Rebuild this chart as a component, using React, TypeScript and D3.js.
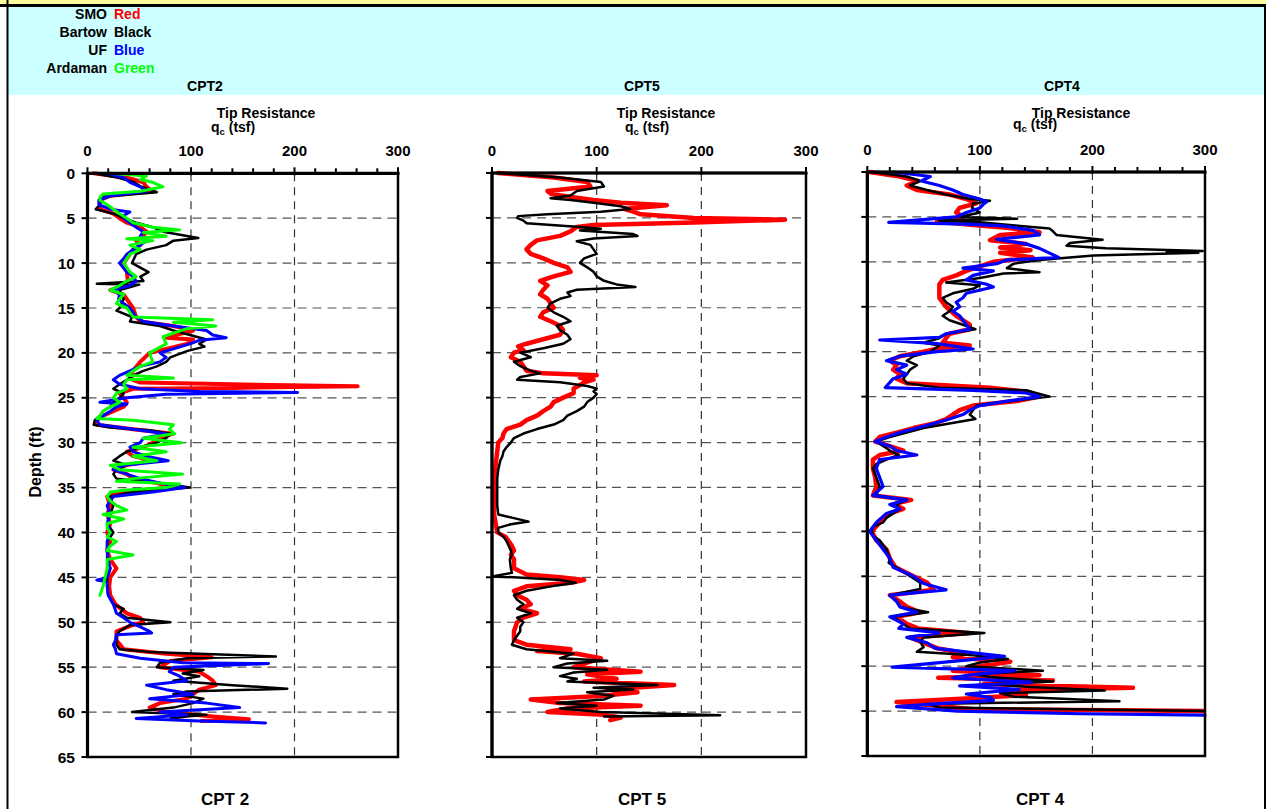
import React from "react";
import * as d3 from "d3";

// ---------- DATA: [depth (ft), qc (tsf)] ----------
const seriesNames = ["SMO", "Bartow", "UF", "Ardaman"];
const seriesColorNames = ["Red", "Black", "Blue", "Green"];
const xTicks = [0, 100, 200, 300];
const yTicks = [0, 5, 10, 15, 20, 25, 30, 35, 40, 45, 50, 55, 60, 65];
const panelTitles = ["CPT2", "CPT5", "CPT4"];
const panelBottomTitles = ["CPT 2", "CPT 5", "CPT 4"];

const cpt2Smo: [number, number][] = [[0,6],[0.5,38],[1,54],[1.5,57],[2,63],[2.5,22],[3,12],[4,12],[4.5,25],[5,31],[5.5,38],[6,51],[6.5,57],[7,54],[7.5,47],[8,51],[8.5,44],[9,41],[10,35],[11,38],[12,39],[12.5,35],[13,22],[13.5,35],[14,38],[15,44],[16,47],[16.5,51],[17,83],[17.5,102],[18,86],[18.3,76],[18.5,102],[19,96],[20,60],[21,51],[22,44],[22.5,41],[23,44],[23.3,51],[23.5,140],[23.7,261],[23.9,140],[24,44],[24.5,31],[25,35],[25.5,38],[26,35],[26.5,25],[27,15],[27.5,9],[28,9],[28.5,44],[29,83],[29.5,70],[30,63],[30.5,54],[31,38],[31.5,44],[32,63],[32.5,38],[33,25],[33.5,38],[34,44],[34.5,67],[35,83],[35.5,31],[36,19],[37,22],[38,19],[39,22],[40,19],[41,22],[42,19],[43,22],[44,28],[45,22],[46,21],[47,22],[48,27],[49,38],[49.5,51],[50,54],[50.3,44],[51,28],[52,28],[53,35],[53.5,76],[53.9,120],[54.3,80],[55,70],[55.5,108],[56,115],[56.5,121],[57,124],[57.5,108],[58,102],[58.5,96],[59,70],[59.5,60],[60,76],[60.5,121],[60.8,156],[61,110]];
const cpt2Bartow: [number, number][] = [[0,6],[0.5,30],[1,45],[1.5,52],[2.1,67],[2.6,15],[3,12],[3.5,12],[4,8],[4.5,25],[5,35],[5.5,47],[6,63],[6.5,73],[7.2,107],[7.5,83],[8,76],[8.5,57],[9,47],[10,43],[10.5,51],[11,59],[11.5,51],[12,54],[12.3,9],[12.4,50],[13,31],[14,35],[15,31],[15.3,28],[16,43],[16.5,41],[17,70],[17.5,83],[18,99],[18.5,115],[19,108],[19.3,113],[19.8,96],[20.5,80],[21,76],[21.5,67],[22,54],[22.5,44],[23,38],[23.5,31],[24,25],[24.5,35],[25,31],[25.5,25],[26,22],[26.5,15],[27,12],[27.5,7],[28,6],[28.3,22],[28.6,60],[29,80],[29.5,76],[30,67],[30.5,51],[31,38],[31.5,31],[32,25],[32.5,38],[33,28],[33.5,25],[34,28],[34.5,70],[35,99],[35.5,44],[36,22],[37,25],[38,22],[39,19],[40,25],[41,19],[42,19],[43,19],[44,22],[45,19],[46,19],[47,20],[48,25],[48.5,35],[49,31],[49.5,38],[50,80],[50.3,41],[51,31],[51.5,28],[52,28],[52.5,28],[53,31],[53.3,60],[53.8,182],[54,96],[54.5,70],[55,67],[55.3,112],[55.7,92],[56,108],[56.5,83],[57,140],[57.4,193],[57.7,96],[58,83],[58.5,112],[59,102],[59.5,83],[60,43],[60.3,115],[60.5,96],[60.7,80]];
const cpt2Uf: [number, number][] = [[0,19],[0.5,35],[1,41],[1.5,51],[2,57],[2.5,22],[3,11],[3.5,11],[4,22],[4.3,41],[4.7,35],[5,35],[5.5,41],[6,47],[6.5,54],[7,51],[7.5,57],[8,51],[8.5,44],[9,38],[9.5,35],[10,31],[11,38],[11.5,44],[12,47],[12.5,41],[13,25],[13.5,31],[14,30],[14.5,35],[15,41],[15.5,44],[16,47],[16.5,54],[17,83],[17.5,115],[18,121],[18.3,134],[18.6,108],[19,99],[20,70],[20.5,76],[21,70],[21.5,51],[22,41],[22.5,31],[23,25],[23.5,31],[24,51],[24.3,108],[24.4,203],[24.6,76],[25,38],[25.5,12],[25.7,38],[26,28],[26.5,22],[27,15],[27.5,9],[28,12],[28.5,44],[29,76],[29.5,54],[30,51],[30.5,41],[31,44],[31.5,57],[32,78],[32.5,35],[33,25],[33.5,38],[34,51],[34.5,71],[35,94],[35.5,63],[36,25],[37,19],[38,22],[39,19],[40,22],[41,19],[42,19],[43,20],[44,22],[45,19],[45.3,9],[45.5,19],[46,19],[47,20],[48,25],[49,28],[49.5,35],[50,41],[50.5,51],[51,60],[51.2,62],[51.4,28],[52,27],[52.5,25],[53,27],[53.5,28],[54,51],[54.5,92],[54.6,175],[55,83],[55.5,79],[56,89],[56.5,96],[57,57],[57.5,76],[58,102],[58.5,60],[59,115],[59.5,147],[60,70],[60.3,96],[60.7,47],[61,108],[61.2,172]];
const cpt2Ardaman: [number, number][] = [[0,22],[0.3,57],[0.7,51],[1,63],[1.5,73],[2,51],[2.3,15],[2.7,12],[3,12],[3.5,19],[4,25],[4.5,31],[5,38],[5.5,44],[6,63],[6.3,89],[6.6,54],[7,76],[7.3,38],[7.5,63],[8,41],[8.5,51],[9,41],[9.5,38],[10,35],[10.5,38],[11,41],[11.5,47],[12,38],[12.5,31],[13,22],[13.5,35],[14,31],[14.5,28],[15,38],[15.5,41],[16,44],[16.3,121],[16.6,83],[17,124],[17.3,96],[17.8,83],[18.2,73],[19,76],[20,60],[21,63],[21.5,51],[22,44],[22.5,38],[22.8,83],[23,38],[23.5,35],[24,38],[24.5,28],[25,25],[25.5,31],[26,22],[26.5,15],[27,12],[27.3,9],[27.5,44],[28,83],[28.5,79],[29,84],[29.5,54],[30,91],[30.5,44],[31,76],[31.5,44],[32,67],[32.5,22],[33,31],[33.5,92],[34,44],[34.3,28],[34.6,89],[35,76],[35.3,35],[35.5,22],[36,19],[36.5,22],[37,28],[37.5,38],[38,15],[38.5,35],[39,19],[39.5,19],[40,22],[40.5,19],[41,28],[41.5,22],[42,19],[42.5,44],[43,19],[44,19],[45,17],[46,15],[47,12]];

const cpt5Smo: [number, number][] = [[0,6],[0.5,59],[1,91],[1.5,94],[2,53],[2.3,56],[2.6,72],[3,97],[3.3,123],[3.6,167],[4,126],[4.3,135],[4.6,142],[5,193],[5.2,280],[5.5,193],[5.8,97],[6,81],[6.5,75],[7,65],[7.5,43],[8,37],[8.5,33],[9,37],[9.5,49],[10,59],[10.5,72],[11,75],[11.5,59],[12,46],[12.5,53],[13,49],[13.5,46],[14,53],[14.5,56],[15,59],[15.5,49],[16,46],[16.5,56],[17,65],[17.5,68],[18,65],[18.5,49],[19,33],[19.3,25],[19.7,30],[20,21],[20.5,18],[21,27],[21.5,30],[22,33],[22.3,49],[22.5,100],[22.8,84],[23,97],[23.3,88],[23.6,84],[24,78],[24.5,78],[25,68],[25.5,59],[26,56],[26.5,49],[27,43],[27.5,33],[28,27],[28.5,14],[29,11],[29.5,10],[30,6],[31,5],[32,4],[33,3],[34,2],[35,2],[38,2],[40,5],[40.5,13],[41,16],[41.5,19],[42,21],[42.5,18],[43,21],[44,21],[44.7,33],[45,65],[45.3,88],[45.6,75],[46,33],[46.5,21],[47,24],[47.5,33],[48,37],[48.5,27],[49,43],[49.5,30],[50,24],[51,21],[52,21],[52.5,33],[53,75],[53.2,43],[53.5,81],[54,104],[54.5,91],[55,78],[55.5,142],[55.8,91],[56.3,119],[56.6,88],[57,174],[57.5,110],[57.8,139],[58.2,104],[58.6,37],[59,65],[59.3,142],[59.6,72],[60,53],[60.3,107],[60.6,123],[60.9,113]];
const cpt5Bartow: [number, number][] = [[0,6],[0.5,65],[1,104],[1.5,107],[1.8,91],[2,81],[2.5,75],[2.8,56],[3,75],[3.3,97],[3.7,123],[4,132],[4.3,104],[4.6,53],[4.8,25],[5,24],[5.3,30],[5.6,33],[6,84],[6.2,104],[6.4,84],[6.8,135],[7,139],[7.3,97],[7.6,81],[8,94],[8.5,97],[9,100],[9.5,88],[10,84],[10.5,91],[11,97],[11.5,100],[12,107],[12.4,119],[12.7,137],[13,81],[13.3,72],[13.7,75],[14,65],[14.5,56],[15,53],[15.5,59],[16,68],[16.5,75],[17,62],[17.5,65],[18,72],[18.5,75],[19,68],[19.5,49],[20,27],[20.5,37],[21,21],[21.5,27],[22,37],[22.3,46],[22.7,27],[23,24],[23.3,65],[23.7,91],[24,100],[24.3,97],[24.6,100],[25,97],[25.5,91],[26,88],[26.5,81],[27,72],[27.5,68],[28,59],[28.5,43],[29,30],[29.5,21],[30,18],[30.5,14],[31,11],[31.5,10],[32,8],[33,6],[34,5],[35,5],[37,5],[38,6],[38.5,24],[38.8,35],[39.1,18],[39.5,6],[40,6],[40.5,11],[41,14],[41.5,16],[42,18],[42.5,19],[43,17],[44,18],[44.5,19],[44.9,0],[45,21],[45.3,65],[45.6,80],[45.9,62],[46.5,33],[47,21],[47.5,24],[48,30],[48.5,24],[49,37],[49.5,24],[50,30],[50.5,27],[51,27],[52,21],[52.5,19],[53,33],[53.5,78],[54,65],[54.3,110],[54.6,72],[55,59],[55.3,110],[55.6,78],[56,65],[56.3,81],[56.6,72],[57,158],[57.3,97],[57.5,135],[57.8,91],[58.2,116],[58.6,107],[59,62],[59.3,100],[59.6,65],[60,104],[60.35,218],[60.5,107]];

const cpt4Smo: [number, number][] = [[0,2],[0.5,29],[1,45],[1.5,35],[2,44],[2.5,73],[3,88],[3.5,97],[4,82],[4.5,79],[5,85],[5.5,62],[5.9,94],[6.2,124],[6.7,153],[7,118],[7.6,109],[8,141],[8.4,118],[8.7,145],[9,118],[9.5,147],[10,112],[10.5,100],[11,88],[11.5,79],[12,67],[12.5,64],[13,64],[14,64],[15,70],[16,79],[17,91],[17.5,91],[18,73],[19,67],[19.3,91],[19.6,64],[20,50],[20.5,29],[21,20],[21.5,26],[22,23],[22.5,29],[23,26],[23.5,35],[24,109],[24.5,144],[25,153],[25.5,133],[26,94],[26.5,82],[27,76],[27.5,70],[28,59],[28.5,41],[29,26],[29.5,11],[30,7],[30.5,20],[31,32],[31.5,11],[32,5],[33,5],[34,7],[35,8],[36,5],[36.5,39],[37,23],[37.5,32],[38,20],[39,11],[40,4],[41,8],[42,17],[43,20],[44,25],[45,41],[45.7,53],[46.5,59],[47.1,20],[47.8,29],[48.4,35],[49,47],[49.5,26],[50.3,35],[50.8,45],[51.3,90],[51.8,38],[52.4,50],[53,62],[53.6,88],[54,76],[54.5,127],[55,100],[55.5,76],[56,153],[56.3,63],[56.6,165],[57,103],[57.4,236],[57.7,118],[58.2,141],[58.6,88],[59,26],[59.3,53],[59.8,94],[60,298]];
const cpt4Bartow: [number, number][] = [[0,4],[0.5,35],[1,47],[1.5,38],[2,53],[2.5,70],[3,91],[3.2,109],[3.5,94],[4,93],[4.5,100],[5,82],[5.2,133],[5.4,64],[5.6,100],[6,136],[6.3,162],[6.6,165],[7,168],[7.2,183],[7.55,209],[7.9,180],[8.2,177],[8.5,212],[8.8,298],[8.9,266],[9,294],[9.3,201],[9.8,153],[10.2,130],[10.7,124],[11.15,153],[11.3,121],[11.8,100],[12.3,70],[12.6,100],[13,94],[13.5,76],[14,67],[14.5,70],[15,76],[15.5,73],[16,67],[16.5,73],[17,85],[17.5,96],[18,70],[18.5,64],[19,50],[19.3,64],[20,56],[20.5,41],[21,35],[21.5,44],[22,38],[22.5,35],[23,32],[23.5,35],[24,64],[24.3,141],[24.6,150],[25,162],[25.3,141],[25.7,112],[26,97],[26.5,94],[27,91],[27.5,96],[28,73],[28.5,50],[29,35],[29.5,20],[30,8],[30.5,14],[31,20],[31.5,28],[32,17],[32.5,8],[33,5],[34,8],[35,11],[36,8],[36.5,35],[37,26],[37.5,29],[38,23],[38.5,17],[39,14],[39.5,5],[40,4],[40.5,5],[41,11],[42,17],[43,20],[43.5,19],[44,26],[44.5,32],[45,38],[45.7,47],[46.4,47],[47.1,20],[47.7,26],[48.4,29],[49,54],[49.5,23],[50.3,32],[50.8,38],[51.3,104],[51.8,50],[52.3,47],[52.9,50],[53.4,44],[53.8,94],[54.2,125],[54.6,100],[55,88],[55.5,156],[55.9,94],[56.2,109],[56.7,165],[57,109],[57.3,141],[57.7,211],[58,118],[58.4,130],[58.9,224],[59.2,53],[59.6,64],[60,300]];
const cpt4Uf: [number, number][] = [[0,23],[0.5,56],[1,48],[1.5,64],[2,76],[2.5,85],[3,100],[3.3,106],[3.6,103],[4,100],[4.5,88],[5,79],[5.6,19],[5.8,88],[6,121],[6.5,147],[7,153],[7.5,115],[8,141],[8.5,153],[9.5,170],[9.8,124],[10.2,115],[10.7,85],[11,112],[11.5,94],[12,88],[12.5,106],[12.8,112],[13.5,88],[14,85],[14.5,79],[15,82],[15.5,76],[16,82],[17,88],[17.5,91],[18,70],[18.4,64],[18.7,11],[19.1,62],[19.7,94],[20,62],[20.5,29],[21,17],[21.5,35],[22,26],[22.5,35],[23,23],[24,16],[24.3,94],[24.6,141],[25,153],[25.5,124],[26,100],[26.5,91],[27,85],[27.5,73],[28,59],[28.5,44],[29,29],[29.5,17],[30,7],[30.5,20],[31,26],[31.5,44],[32,11],[33,8],[34,11],[35,14],[36,5],[36.5,35],[37,20],[37.5,29],[38,17],[39,8],[40,2],[41,8],[42,14],[43,20],[44,23],[45,41],[45.8,50],[46.5,70],[47.1,20],[47.8,26],[48.4,29],[49,44],[49.5,20],[50.3,32],[50.8,28],[51.3,64],[51.8,35],[52.4,53],[53,60],[53.6,100],[53.9,122],[54.3,90],[55.1,22],[55.5,131],[56,90],[56.3,76],[56.8,146],[57.2,82],[57.6,135],[58.1,88],[58.5,110],[58.8,112],[59.2,60],[59.5,26],[60,80],[60.3,190],[60.45,300]];

// ---------- LAYOUT ----------
const FONT = "'Liberation Sans', Arial, Helvetica, sans-serif";

type Series = { data: [number, number][]; color: string; width: number };

const panels = [
  {
    x0: 87.5, x1: 398, y0: 173.3, y1: 757,
    minorTicks: true, yLabels: true,
    title: panelTitles[0], titleX: 205, bottom: panelBottomTitles[0], bottomX: 225,
    tipX: 266, tipY: 117.5, qcX: 211, qcY: 132,
    series: [
      { data: cpt2Smo, color: "#ff0000", width: 4 },
      { data: cpt2Bartow, color: "#000000", width: 2.5 },
      { data: cpt2Uf, color: "#0000ff", width: 3 },
      { data: cpt2Ardaman, color: "#00ff00", width: 3 },
    ] as Series[],
  },
  {
    x0: 492, x1: 806, y0: 173, y1: 757,
    minorTicks: false, yLabels: false,
    title: panelTitles[1], titleX: 642, bottom: panelBottomTitles[1], bottomX: 642,
    tipX: 666, tipY: 117.5, qcX: 625, qcY: 132,
    series: [
      { data: cpt5Smo, color: "#ff0000", width: 4.5 },
      { data: cpt5Bartow, color: "#000000", width: 2.5 },
    ] as Series[],
  },
  {
    x0: 867.3, x1: 1205, y0: 172, y1: 756,
    minorTicks: true, yLabels: false,
    title: panelTitles[2], titleX: 1062, bottom: panelBottomTitles[2], bottomX: 1040,
    tipX: 1081, tipY: 118, qcX: 1013, qcY: 129,
    series: [
      { data: cpt4Smo, color: "#ff0000", width: 4.5 },
      { data: cpt4Bartow, color: "#000000", width: 2.5 },
      { data: cpt4Uf, color: "#0000ff", width: 3.2 },
    ] as Series[],
  },
];

const legendColors = ["#ff0000", "#000000", "#0000ff", "#00ff00"];

function Panel({ p, idx }: { p: (typeof panels)[number]; idx: number }) {
  const x = d3.scaleLinear().domain([0, 300]).range([p.x0, p.x1]);
  const y = d3.scaleLinear().domain([0, 65]).range([p.y0, p.y1]);
  const line = d3
    .line<[number, number]>()
    .x((d) => x(Math.min(300, d[1])))
    .y((d) => y(d[0]))
    .curve(d3.curveLinear);
  const minor = d3.range(0, 301, 20).filter((v) => v % 100 !== 0);
  const clipId = `clip${idx}`;
  return (
    <g>
      <defs>
        <clipPath id={clipId}>
          <rect x={p.x0} y={p.y0 - 3} width={p.x1 - p.x0 + 2} height={p.y1 - p.y0 + 3} />
        </clipPath>
      </defs>
      {yTicks.filter((t) => t > 0 && t < 65).map((t) => (
        <line key={"h" + t} x1={p.x0} x2={p.x1} y1={y(t)} y2={y(t)} stroke="#555" strokeWidth={1.2} strokeDasharray="9,6" />
      ))}
      {[100, 200].map((t) => (
        <line key={"v" + t} x1={x(t)} x2={x(t)} y1={p.y0} y2={p.y1} stroke="#333" strokeWidth={1.2} strokeDasharray="8,6" />
      ))}
      <g clipPath={`url(#${clipId})`}>
        {p.series.map((s, i) => (
          <path key={i} d={line(s.data) || ""} fill="none" stroke={s.color} strokeWidth={s.width} strokeLinejoin="round" strokeLinecap="round" />
        ))}
      </g>
      <rect x={p.x0} y={p.y0} width={p.x1 - p.x0} height={p.y1 - p.y0} fill="none" stroke="#000" strokeWidth={2.5} />
      <line x1={p.x0 - 1.5} x2={p.x1 + 1.5} y1={p.y0} y2={p.y0} stroke="#000" strokeWidth={3.2} />
      <line x1={p.x0} x2={p.x0} y1={p.y0} y2={p.y1 + 1} stroke="#000" strokeWidth={3.2} />
      {xTicks.map((t) => (
        <line key={"xt" + t} x1={x(t)} x2={x(t)} y1={p.y0 - 6} y2={p.y0 + 2} stroke="#000" strokeWidth={2} />
      ))}
      {p.minorTicks &&
        minor.map((t) => (
          <line key={"mt" + t} x1={x(t)} x2={x(t)} y1={p.y0 - 5} y2={p.y0} stroke="#000" strokeWidth={2} />
        ))}
      {yTicks.map((t) => (
        <line key={"yt" + t} x1={p.x0 - 6} x2={p.x0} y1={y(t)} y2={y(t)} stroke="#000" strokeWidth={2} />
      ))}
      {xTicks.map((t) => (
        <text key={"xl" + t} x={x(t)} y={p.y0 - 17.5} textAnchor="middle" fontFamily={FONT} fontWeight="bold" fontSize={15}>
          {t}
        </text>
      ))}
      {p.yLabels &&
        yTicks.map((t) => (
          <text key={"yl" + t} x={75} y={y(t) + 5.5} textAnchor="end" fontFamily={FONT} fontWeight="bold" fontSize={15.5}>
            {t}
          </text>
        ))}
      <text x={p.tipX} y={p.tipY} textAnchor="middle" fontFamily={FONT} fontWeight="bold" fontSize={14}>
        Tip Resistance
      </text>
      <text x={p.qcX} y={p.qcY} fontFamily={FONT} fontWeight="bold" fontSize={14}>
        q<tspan fontSize={9.5} dy={3}>c</tspan>
        <tspan dy={-3}> (tsf)</tspan>
      </text>
      <text x={p.titleX} y={91} textAnchor="middle" fontFamily={FONT} fontWeight="bold" fontSize={14}>
        {p.title}
      </text>
      <text x={p.bottomX} y={805} textAnchor="middle" fontFamily={FONT} fontWeight="bold" fontSize={17}>
        {p.bottom}
      </text>
    </g>
  );
}

export default function App() {
  const W = 1266;
  const H = 809;
  return (
    <div style={{ position: "absolute", left: 0, top: 0, width: W, height: H, background: "#fff" }}>
      <svg width={W} height={H} viewBox={`0 0 ${W} ${H}`} style={{ display: "block" }}>
        <rect x={0} y={0} width={W} height={H} fill="#ffffff" />
        <rect x={0} y={0} width={W} height={5} fill="#ffff99" />
        <rect x={8} y={7} width={1257} height={88} fill="#ccffff" />
        <line x1={0} x2={W} y1={5.5} y2={5.5} stroke="#000" strokeWidth={3} />
        <line x1={7.5} x2={7.5} y1={0} y2={H} stroke="#000" strokeWidth={2} />
        <line x1={1265} x2={1265} y1={5} y2={H} stroke="#000" strokeWidth={2} />
        {seriesNames.map((n, i) => (
          <g key={n}>
            <text x={107} y={18.5 + i * 18} textAnchor="end" fontFamily={FONT} fontWeight="bold" fontSize={14}>
              {n}
            </text>
            <text x={114} y={18.5 + i * 18} fontFamily={FONT} fontWeight="bold" fontSize={14} fill={legendColors[i]}>
              {seriesColorNames[i]}
            </text>
          </g>
        ))}
        {panels.map((p, i) => (
          <Panel key={i} p={p} idx={i} />
        ))}
        <text transform="translate(41,462) rotate(-90)" textAnchor="middle" fontFamily={FONT} fontWeight="bold" fontSize={16}>
          Depth (ft)
        </text>
      </svg>
    </div>
  );
}
